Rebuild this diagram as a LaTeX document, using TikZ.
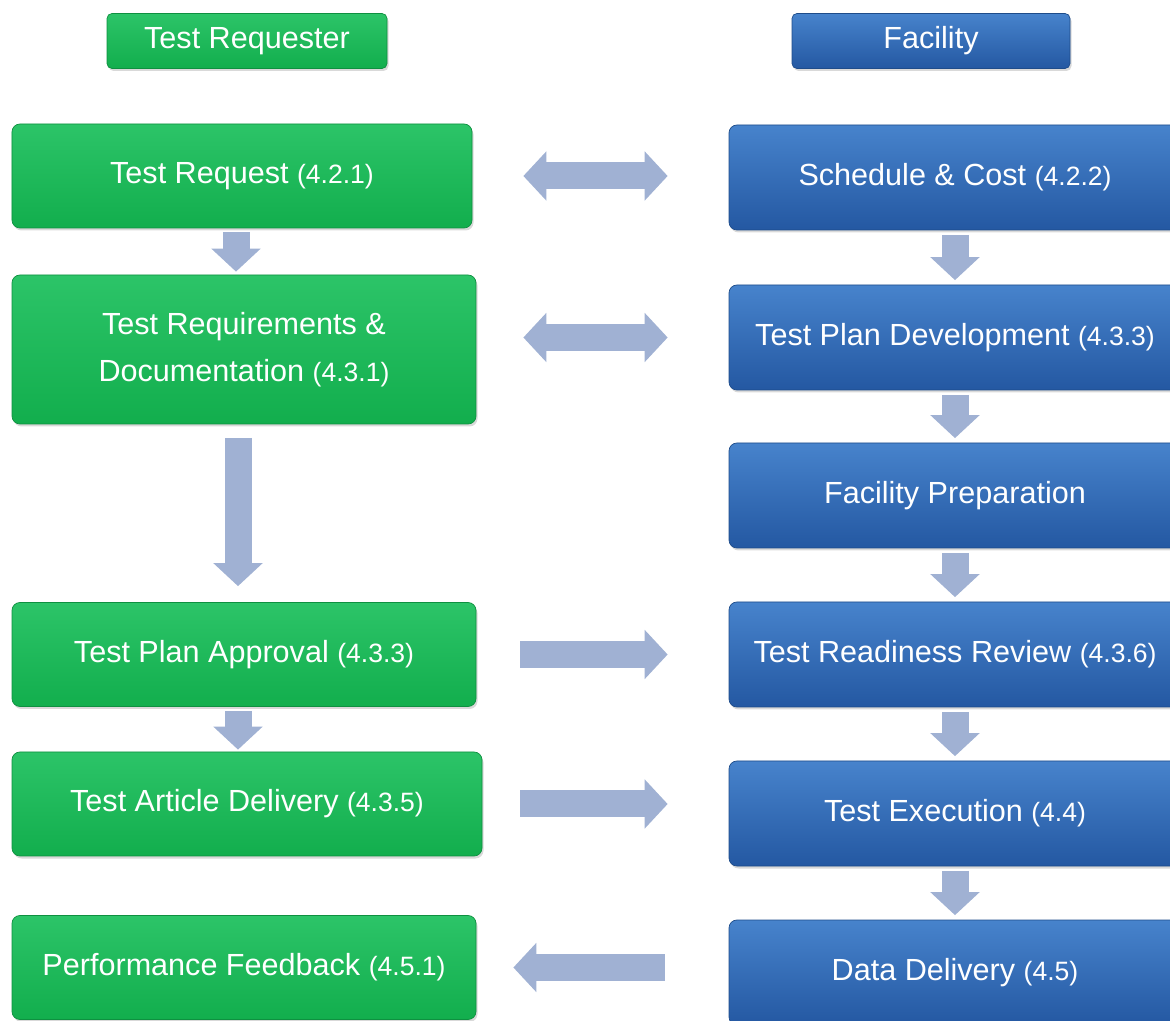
\documentclass[tikz,border=0pt]{standalone}
\usepackage{fontspec}
\setmainfont{Liberation Sans}
\usetikzlibrary{arrows.meta,shadows}
\definecolor{greentop}{HTML}{2CC468}
\definecolor{greenbot}{HTML}{12AE4D}
\definecolor{greenedge}{HTML}{0E9040}
\definecolor{bluetop}{HTML}{4783CC}
\definecolor{bluebot}{HTML}{2458A2}
\definecolor{blueedge}{HTML}{1E4C8A}
\definecolor{arrowblue}{HTML}{A0B1D3}
\newcommand{\secno}[1]{{\fontsize{15.1}{27}\selectfont #1}}

\begin{document}
\begin{tikzpicture}[
    greenbox/.style={rectangle,rounded corners=0.16cm,draw=greenedge,top color=greentop,bottom color=greenbot,
        text=white,minimum width=9.28cm,minimum height=2.08cm,align=center,font=\fontsize{17.4}{27}\selectfont,
        drop shadow={shadow xshift=0.03cm,shadow yshift=-0.05cm,opacity=0.3}},
    bluebox/.style={rectangle,rounded corners=0.16cm,draw=blueedge,top color=bluetop,bottom color=bluebot,
        text=white,minimum width=9.04cm,minimum height=2.1cm,align=center,font=\fontsize{17.4}{27}\selectfont,
        drop shadow={shadow xshift=0.03cm,shadow yshift=-0.05cm,opacity=0.3}},
    greenhead/.style={greenbox,minimum width=5.6cm,minimum height=1.1cm,rounded corners=0.1cm},
    bluehead/.style={bluebox,minimum width=5.56cm,minimum height=1.1cm,rounded corners=0.1cm},
    flowarrow/.style={arrowblue,line width=0.54cm,>={Triangle[length=0.46cm 0 0,width=0.96cm 0 0]}}
    ]
    \useasboundingbox (0,0) rectangle (23.4,-20.42);
    \clip (0,0) rectangle (23.4,-20.42);
    \node[greenhead] (requester) at (4.94,-0.82) {Test Requester};
    \node[bluehead] (facility) at (18.62,-0.82) {Facility};
    \node[greenbox,minimum width=9.2cm] (req) at (4.84,-3.52) {Test Request \secno{(4.2.1)}};
    \node[greenbox,minimum height=2.98cm] (reqdoc) at (4.88,-6.99) {Test Requirements \&\\Documentation \secno{(4.3.1)}};
    \node[greenbox] (approval) at (4.88,-13.09) {Test Plan Approval \secno{(4.3.3)}};
    \node[greenbox,minimum width=9.4cm] (delivery) at (4.94,-16.08) {Test Article Delivery \secno{(4.3.5)}};
    \node[greenbox] (feedback) at (4.88,-19.35) {Performance Feedback \secno{(4.5.1)}};
    \node[bluebox] (sched) at (19.1,-3.55) {Schedule \& Cost \secno{(4.2.2)}};
    \node[bluebox] (plan) at (19.1,-6.75) {Test Plan Development \secno{(4.3.3)}};
    \node[bluebox] (prep) at (19.1,-9.91) {Facility Preparation};
    \node[bluebox] (trr) at (19.1,-13.09) {Test Readiness Review \secno{(4.3.6)}};
    \node[bluebox] (exec) at (19.1,-16.27) {Test Execution \secno{(4.4)}};
    \node[bluebox] (data) at (19.1,-19.45) {Data Delivery \secno{(4.5)}};
    \coordinate (d1) at ([xshift=-0.12cm]req.south);
    \coordinate (d2) at ([xshift=-0.12cm]reqdoc.south);
    \coordinate (d3) at ([xshift=-0.12cm]approval.south);
    \draw[flowarrow,<->,shorten <=1.02cm,shorten >=1.22cm] (req.east) -- (req.east -| sched.west);
    \draw[flowarrow,<->,shorten <=0.94cm,shorten >=1.22cm] (plan.west -| reqdoc.east) -- (plan.west);
    \draw[flowarrow,->,shorten <=0.88cm,shorten >=1.22cm] (approval.east) -- (trr.west);
    \draw[flowarrow,->,shorten <=0.76cm,shorten >=1.22cm] (delivery.east) -- (delivery.east -| exec.west);
    \draw[flowarrow,->,shorten <=1.28cm,shorten >=0.74cm] (feedback.east -| data.west) -- (feedback.east);
    \draw[flowarrow,->,shorten <=0.08cm,shorten >=0.06cm] (d1) -- (d1 |- reqdoc.north);
    \draw[flowarrow,->,shorten <=0.27cm,shorten >=0.32cm] (d2) -- (d2 |- approval.north);
    \draw[flowarrow,->,shorten <=0.08cm,shorten >=0.04cm] (d3) -- (d3 |- delivery.north);
    \draw[flowarrow,->,shorten <=0.09cm,shorten >=0.09cm] (sched) -- (plan);
    \draw[flowarrow,->,shorten <=0.09cm,shorten >=0.09cm] (plan) -- (prep);
    \draw[flowarrow,->,shorten <=0.09cm,shorten >=0.09cm] (prep) -- (trr);
    \draw[flowarrow,->,shorten <=0.09cm,shorten >=0.09cm] (trr) -- (exec);
    \draw[flowarrow,->,shorten <=0.09cm,shorten >=0.09cm] (exec) -- (data);
\end{tikzpicture}
\end{document}
